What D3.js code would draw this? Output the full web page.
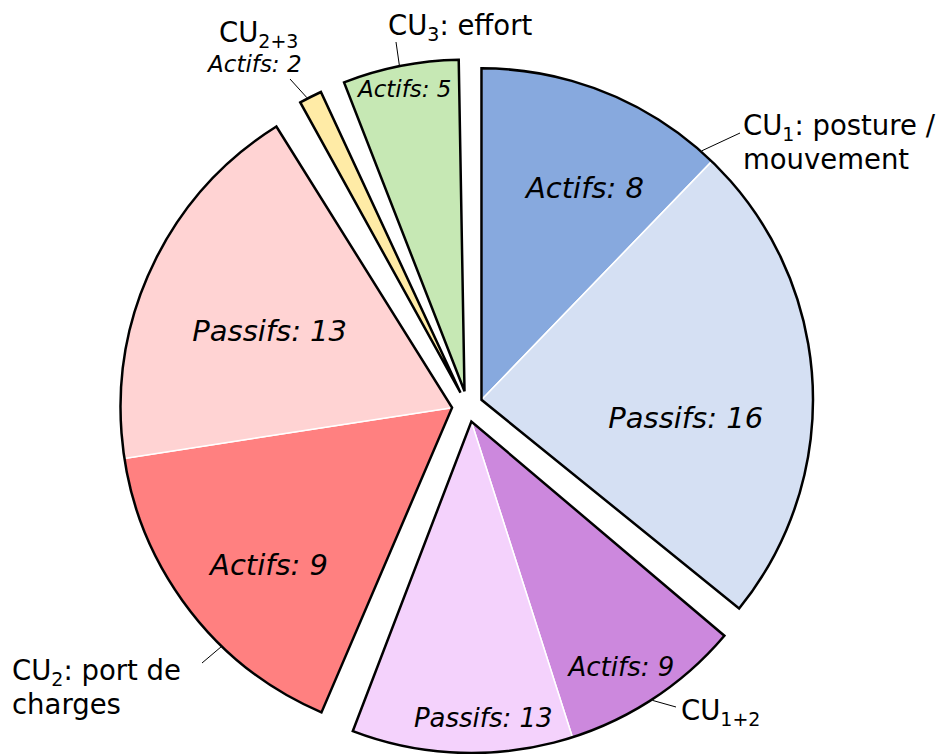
<!DOCTYPE html>
<html>
<head>
<meta charset="utf-8">
<script src="https://cdn.jsdelivr.net/npm/d3@7"></script>
<style>
  body { margin: 0; background: #fff; }
  text { font-family: "DejaVu Sans", Verdana, sans-serif; fill: #000; }
</style>
</head>
<body>
<script>
const width = 952, height = 754;

// groups, clockwise from 12 o'clock
const groupSub = ["1", "1+2", "2", "2+3", "3"];
const groupDesc = [": posture /", "", ": port de", "", ": effort"];
const groupLine2 = ["mouvement", "", "charges", "", ""];

// slices: group, kind, count in the label, share of the circle (deg)
const sliceGroup = [0, 0, 1, 1, 2, 2, 3, 4];
const sliceKind = ["Actifs", "Passifs", "Actifs", "Passifs", "Actifs", "Passifs", "Actifs", "Actifs"];
const sliceCount = [8, 16, 9, 13, 9, 13, 2, 5];
const sliceShare = [44, 85, 32, 38.7, 58, 66.8, 4, 20.3];

const sliceColors = ["#87a9de", "#d5e0f3", "#cc88dd", "#f4d2fc", "#ff8080", "#ffd3d3", "#ffeba6", "#c6e8b4"];

// layout
const center = [467.5, 406.5], radius = 331.5, explode = 15.5;
const gapAfter = [1.25, 2.25, 3.1, 3.6, 1.0]; // empty wedge after each group (deg)
const rad = d => d * Math.PI / 180;

// inner label: polar position from group apex (deg, px) and font size
const innerLabel = [
  {a: 26, r: 236, size: 29},
  {a: 95, r: 205, size: 29},
  {a: 148.6, r: 288, size: 26},
  {a: 177.7, r: 297, size: 26},
  {a: 229.4, r: 241, size: 29},
  {a: 292.9, r: 198, size: 29},
  null,
  {a: 348.8, r: 308, size: 23}
];

// outer labels: text position, leader angle on the rim, leader end
const outerLabel = [
  {x: 743, y: 135, lead: 41.5, end: [740, 133]},
  {x: 681, y: 720, lead: 147, end: [676, 707]},
  {x: 12, y: 680, lead: 224, end: [202, 663]},
  {x: 219, y: 42, lead: 332.5, end: [290, 79]},
  {x: 388, y: 35, lead: 348.7, end: [396, 42]}
];

const color = d3.scaleOrdinal().domain(d3.range(sliceShare.length)).range(sliceColors);
const angle = d3.scaleLinear()
  .domain([0, d3.sum(sliceShare)])
  .range([0, rad(360 - d3.sum(gapAfter))]);

const svg = d3.select("body").append("svg")
  .attr("width", width)
  .attr("height", height);

svg.append("rect").attr("width", width).attr("height", height).attr("fill", "#fff");

const chart = svg.append("g").attr("transform", `translate(${center})`);
const arc = d3.arc().innerRadius(0).outerRadius(radius);
const polar = (deg, r) => [r * Math.sin(rad(deg)), -r * Math.cos(rad(deg))];

const groupTotals = groupSub.map((g, i) => d3.sum(sliceShare.filter((v, j) => sliceGroup[j] === i)));

let a0 = 0;
groupTotals.forEach((tot, gi) => {
  const s = a0, e = s + angle(tot), mid = (s + e) / 2;
  a0 = e + rad(gapAfter[gi]);
  const off = [explode * Math.sin(mid), -explode * Math.cos(mid)];
  const g = chart.append("g").attr("transform", `translate(${off})`);

  const idx = d3.range(sliceShare.length).filter(j => sliceGroup[j] === gi);
  const inner = d3.pie().sort(null).startAngle(s).endAngle(e)(idx.map(j => sliceShare[j]));

  g.selectAll("path.slice")
    .data(inner)
    .join("path")
      .attr("class", "slice")
      .attr("d", arc)
      .attr("fill", (d, k) => color(idx[k]))
      .attr("stroke", "#fff")
      .attr("stroke-width", 1.5);

  g.append("path")
    .attr("d", arc({startAngle: s, endAngle: e}))
    .attr("fill", "none")
    .attr("stroke", "#000")
    .attr("stroke-width", 2.5)
    .attr("stroke-linejoin", "miter");

  idx.forEach(j => {
    const L = innerLabel[j];
    if (!L) return;
    const p = polar(L.a, L.r);
    g.append("text")
      .attr("x", p[0])
      .attr("y", p[1])
      .attr("dy", "0.35em")
      .attr("text-anchor", "middle")
      .style("font-style", "italic")
      .style("font-size", L.size + "px")
      .text(`${sliceKind[j]}: ${sliceCount[j]}`);
  });

  // leader line
  const O = outerLabel[gi];
  const p0 = polar(O.lead, radius + 1);
  svg.append("line")
    .attr("x1", center[0] + off[0] + p0[0])
    .attr("y1", center[1] + off[1] + p0[1])
    .attr("x2", O.end[0])
    .attr("y2", O.end[1])
    .attr("stroke", "#000")
    .attr("stroke-width", 1);

  const size = 27.5;
  const t = svg.append("text")
    .attr("x", O.x)
    .attr("y", O.y)
    .style("font-size", size + "px");
  t.append("tspan").text("CU");
  t.append("tspan")
    .attr("dy", 6)
    .style("font-size", "19px")
    .text(groupSub[gi]);
  if (groupDesc[gi]) t.append("tspan").attr("dy", -6).text(groupDesc[gi]);

  if (groupLine2[gi]) {
    svg.append("text")
      .attr("x", O.x)
      .attr("y", O.y + 34)
      .style("font-size", size + "px")
      .text(groupLine2[gi]);
  }
});

// the thin CU2+3 slice carries its label outside, under the group name
const small = sliceGroup.indexOf(3);
svg.append("text")
  .attr("x", 208)
  .attr("y", 72)
  .style("font-style", "italic")
  .style("font-size", "23px")
  .text(`${sliceKind[small]}: ${sliceCount[small]}`);
</script>
</body>
</html>
